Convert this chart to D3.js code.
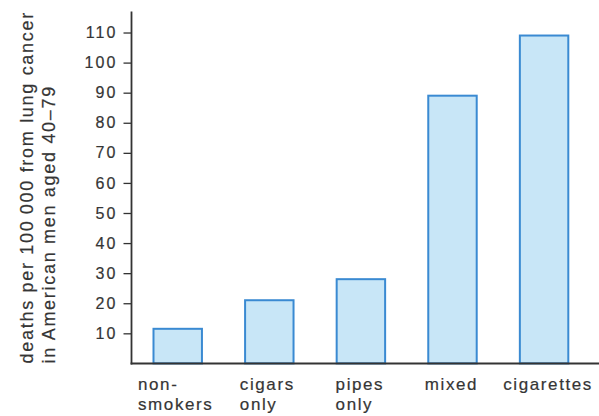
<!DOCTYPE html>
<html>
<head>
<meta charset="utf-8">
<script src="https://cdn.jsdelivr.net/npm/d3@7"></script>
<style>
  html, body { margin: 0; padding: 0; background: #ffffff; }
  svg { display: block; }
  text { font-family: "Liberation Sans", Arial, Helvetica, sans-serif; fill: #353535; stroke: #353535; stroke-width: 0.2px; }
</style>
</head>
<body>
<svg id="chart" width="599" height="416"></svg>
<script>
// ---- data ----
const categories = ["non-smokers", "cigars only", "pipes only", "mixed", "cigarettes"];
const categoryLabelLines = [["non-", "smokers"], ["cigars", "only"], ["pipes", "only"], ["mixed"], ["cigarettes"]];
const deathRates = [11.5, 21, 28, 89, 109];
const yTickValues = [10, 20, 30, 40, 50, 60, 70, 80, 90, 100, 110];
const yTitleLines = ["deaths per 100\u2009000 from lung cancer", "in American men aged 40\u201379"];

// ---- layout ----
const svg = d3.select("#chart");
const axisX = 131.5;
const baseY = 363.4;

const y = d3.scaleLinear().domain([0, 120]).range([baseY, baseY - 120 * 3.008]);
const x = d3.scaleBand().domain(categories).range([130.6, 591.2])
  .paddingInner(0.471).paddingOuter(0.25);

// bars
svg.append("g").selectAll("rect")
  .data(categories)
  .join("rect")
  .attr("x", d => x(d))
  .attr("y", (d, i) => y(deathRates[i]))
  .attr("width", x.bandwidth())
  .attr("height", (d, i) => baseY - y(deathRates[i]))
  .attr("fill", "#c8e6f7")
  .attr("stroke", "#3a8ad2")
  .attr("stroke-width", 2);

// y axis
const yAxis = d3.axisLeft(y).tickValues(yTickValues).tickSize(8).tickPadding(6).tickSizeOuter(0);
const gy = svg.append("g").attr("transform", `translate(${axisX},0)`).call(yAxis);
gy.select(".domain").remove();
gy.selectAll(".tick line").attr("stroke", "#333").attr("stroke-width", 1.3);
gy.selectAll(".tick text")
  .attr("font-size", 16)
  .attr("letter-spacing", 2.1)
  .attr("fill", "#353535")
  .style("font-family", '"Liberation Sans", Arial, sans-serif');

svg.append("line")
  .attr("x1", axisX).attr("x2", axisX)
  .attr("y1", y(117)).attr("y2", baseY + 1)
  .attr("stroke", "#333").attr("stroke-width", 1.8);

// x baseline
const xAxis = d3.axisBottom(x).tickSize(0).tickFormat("");
const gx = svg.append("g").attr("transform", `translate(0,${baseY})`).call(xAxis);
gx.select(".domain").remove();
svg.append("line")
  .attr("x1", axisX - 0.9).attr("x2", 599)
  .attr("y1", baseY).attr("y2", baseY)
  .attr("stroke", "#333").attr("stroke-width", 2);

// category labels (lines left-aligned, block centred under bar)
const labelShift = [-2, -2, -1, -1, 4];
categories.forEach((c, i) => {
  const g = svg.append("g");
  const lines = categoryLabelLines[i];
  let maxW = 0;
  lines.forEach((ln, j) => {
    const t = g.append("text")
      .attr("font-size", 17)
      .attr("letter-spacing", 1.6)
      .attr("x", 0).attr("y", 390 + j * 19.6)
      .text(ln);
    maxW = Math.max(maxW, t.node().getComputedTextLength());
  });
  const cx = x(c) + x.bandwidth() / 2 + labelShift[i];
  g.attr("transform", `translate(${cx - maxW / 2},0)`);
});

// y title
const yTitle = svg.append("g").attr("transform", `translate(0,${baseY}) rotate(-90)`);
yTitleLines.forEach((ln, j) => {
  yTitle.append("text")
    .attr("font-size", 18)
    .attr("letter-spacing", 1.7)
    .attr("x", 0).attr("y", 33 + j * 21.5)
    .text(ln);
});
</script>
</body>
</html>
